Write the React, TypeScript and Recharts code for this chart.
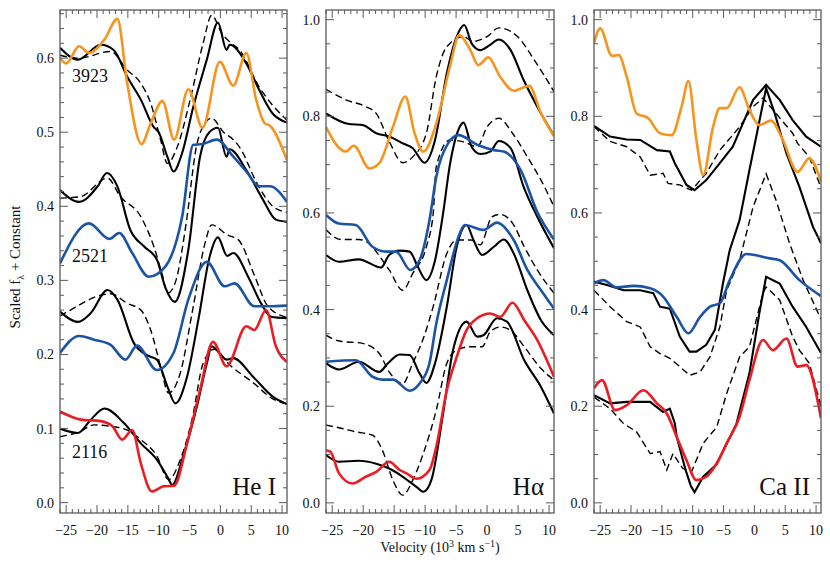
import React from "react";
import { LineChart, Line, XAxis, YAxis } from "recharts";

type Pt = [number, number];

// velocity (10^3 km/s) vs scaled flux
// He I
const he3923Obs: Pt[] = [[-26,0.600],[-25,0.593],[-22.9,0.616],[-21.3,0.607],[-18.8,0.625],[-16.7,0.653],[-15.1,0.566],[-12.8,0.484],[-11.3,0.512],[-9.4,0.542],[-7.5,0.49],[-5.2,0.558],[-2.9,0.506],[-0.1,0.595],[2.1,0.563],[4.2,0.607],[5.8,0.544],[7.2,0.512],[8,0.509],[10.8,0.462]];
const he3923ModelA: Pt[] = [[-26,0.614],[-23.1,0.598],[-19.4,0.618],[-17.3,0.611],[-15.1,0.575],[-12.9,0.544],[-10.8,0.507],[-10,0.5],[-8.6,0.467],[-7.6,0.447],[-6.2,0.472],[-4.4,0.534],[-2.2,0.598],[-0.4,0.648],[1,0.611],[1.5,0.618],[4.2,0.593],[6.3,0.557],[8.4,0.526],[10.8,0.513]];
const he3923ModelB: Pt[] = [[-26,0.604],[-23,0.6],[-17.8,0.609],[-15.1,0.584],[-12.9,0.566],[-11.3,0.539],[-9.7,0.49],[-8.6,0.458],[-7,0.48],[-4.9,0.544],[-2.8,0.62],[-1.4,0.658],[0.2,0.634],[1.5,0.622],[3.1,0.611],[6.3,0.561],[10.8,0.516]];
const he2521Obs: Pt[] = [[-26,0.323],[-21.3,0.377],[-18,0.356],[-16.4,0.364],[-14.3,0.337],[-11.6,0.305],[-8.9,0.319],[-6.2,0.386],[-4.4,0.483],[-2.9,0.484],[-0.6,0.49],[2.1,0.467],[4.2,0.447],[6.3,0.427],[8,0.427],[10.8,0.406]];
const he2521ModelA: Pt[] = [[-26,0.422],[-22.9,0.406],[-19.9,0.427],[-18.4,0.445],[-16.7,0.427],[-14.6,0.368],[-12.4,0.346],[-10.3,0.328],[-8.9,0.29],[-7.4,0.271],[-5.2,0.341],[-3.3,0.467],[-1.8,0.5],[-0.4,0.506],[1,0.467],[1.5,0.477],[4.2,0.449],[6.9,0.409],[9,0.382],[10.8,0.379]];
const he2521ModelB: Pt[] = [[-26,0.411],[-22.7,0.413],[-18.3,0.438],[-16.2,0.413],[-12.9,0.386],[-10.8,0.346],[-9.5,0.31],[-8.5,0.283],[-7.2,0.3],[-5.5,0.38],[-3.9,0.48],[-2.5,0.512],[-1.4,0.519],[0.5,0.5],[2.1,0.49],[3.1,0.48],[6,0.43],[8.5,0.4],[10.8,0.392]];
const heMidObs: Pt[] = [[-26,0.202],[-22.9,0.225],[-20.5,0.22],[-17.8,0.213],[-15.4,0.193],[-13.5,0.212],[-10.3,0.179],[-7.6,0.202],[-5.2,0.274],[-2.2,0.325],[0.7,0.292],[2.3,0.296],[5.5,0.265],[7.7,0.265],[10.8,0.266]];
const heMidModelA: Pt[] = [[-26,0.258],[-23.1,0.244],[-21,0.256],[-18.3,0.287],[-16.7,0.274],[-14,0.215],[-11.9,0.199],[-10.3,0.193],[-8.6,0.157],[-7.3,0.134],[-5.4,0.17],[-3.5,0.25],[-1.8,0.33],[-0.4,0.358],[1.1,0.333],[2.1,0.337],[4.5,0.305],[6.6,0.269],[8.2,0.251],[10.8,0.249]];
const heMidModelB: Pt[] = [[-26,0.252],[-24.3,0.26],[-19.4,0.28],[-17.8,0.282],[-15.1,0.269],[-12.9,0.26],[-11.3,0.233],[-9.7,0.184],[-8.4,0.148],[-6.5,0.175],[-4.5,0.26],[-2.5,0.35],[-1.4,0.375],[1.2,0.361],[2.9,0.355],[5.6,0.305],[7.7,0.265],[10.8,0.25]];
const he2116Obs: Pt[] = [[-26,0.123],[-22.6,0.112],[-19.4,0.11],[-17.5,0.103],[-15.9,0.085],[-14.3,0.098],[-12.9,0.053],[-11.1,0.015],[-9.2,0.022],[-7.5,0.023],[-5.4,0.08],[-3.3,0.152],[-1.2,0.217],[1,0.184],[4.2,0.238],[5.5,0.233],[7.4,0.26],[9,0.211],[10.8,0.19]];
const he2116ModelA: Pt[] = [[-26,0.1],[-23.1,0.094],[-21,0.112],[-18.8,0.127],[-15.6,0.107],[-12.9,0.08],[-10.3,0.058],[-8.6,0.035],[-7.8,0.024],[-5.9,0.067],[-3.8,0.13],[-2.2,0.188],[-1.4,0.211],[-0.5,0.205],[1,0.193],[2.1,0.195],[5.3,0.17],[8.5,0.143],[10.8,0.133]];
const he2116ModelB: Pt[] = [[-26,0.089],[-22.7,0.096],[-20.5,0.105],[-17.8,0.103],[-15.1,0.098],[-12.9,0.085],[-10.3,0.063],[-8.4,0.031],[-6.5,0.058],[-4.6,0.112],[-2.8,0.188],[-1,0.207],[1.5,0.186],[5.3,0.162],[8.5,0.14],[10.8,0.133]];

// H alpha
const ha1Obs: Pt[] = [[-26,0.778],[-24.5,0.744],[-22.8,0.727],[-21.5,0.739],[-19,0.692],[-17.4,0.703],[-15.2,0.778],[-13.2,0.841],[-11.7,0.765],[-10.3,0.727],[-8.2,0.785],[-6,0.903],[-4.5,0.968],[-2.7,0.937],[-1.4,0.906],[0.2,0.922],[2.1,0.882],[4.3,0.853],[6.8,0.863],[8.7,0.806],[10.8,0.759]];
const ha1ModelA: Pt[] = [[-26,0.806],[-22.3,0.784],[-20.1,0.782],[-17.9,0.765],[-15.8,0.758],[-13.6,0.744],[-12,0.734],[-10.1,0.704],[-8.4,0.751],[-6.5,0.889],[-4.9,0.965],[-3.7,0.989],[-2.5,0.951],[-1.1,0.937],[0.5,0.948],[1.9,0.959],[3.8,0.937],[5.9,0.875],[8.1,0.82],[10.8,0.76]];
const ha1ModelB: Pt[] = [[-26,0.856],[-22.8,0.834],[-19.6,0.82],[-17.9,0.806],[-15.8,0.748],[-13.6,0.704],[-12,0.716],[-9.8,0.765],[-8.2,0.882],[-6.5,0.944],[-3.8,0.965],[-2.3,0.955],[0,0.965],[1.9,0.983],[4.9,0.965],[7.6,0.917],[10.8,0.851]];
const ha2Obs: Pt[] = [[-26,0.596],[-23.9,0.578],[-21.2,0.575],[-18.5,0.53],[-16.3,0.52],[-14.7,0.52],[-12.4,0.482],[-10.9,0.502],[-9.3,0.585],[-8.2,0.675],[-6.3,0.744],[-4.6,0.761],[-1.6,0.741],[1.1,0.73],[2.7,0.727],[5.4,0.689],[8.1,0.602],[10.8,0.545]];
const ha2ModelA: Pt[] = [[-26,0.513],[-23.9,0.499],[-20.7,0.504],[-17.1,0.487],[-15.8,0.513],[-14.1,0.522],[-12.5,0.52],[-11.2,0.489],[-9.8,0.461],[-8.4,0.502],[-7.1,0.599],[-6,0.7],[-4.7,0.77],[-3.8,0.787],[-2.5,0.737],[-1.1,0.722],[0.5,0.727],[1.9,0.749],[3.8,0.734],[5.9,0.654],[8.1,0.592],[10.8,0.527]];
const ha2ModelB: Pt[] = [[-26,0.565],[-23.6,0.545],[-20.7,0.545],[-18.5,0.53],[-17.9,0.52],[-15.8,0.482],[-13.6,0.44],[-12,0.475],[-9.8,0.53],[-8.7,0.599],[-8.2,0.696],[-6,0.751],[-3.8,0.747],[-1.6,0.737],[0,0.778],[1.9,0.796],[4.1,0.765],[6.5,0.716],[8.7,0.668],[10.8,0.613]];
const ha3Obs: Pt[] = [[-26,0.292],[-21.2,0.295],[-18.5,0.261],[-16.9,0.255],[-15.2,0.255],[-12.5,0.232],[-10.9,0.247],[-9.3,0.289],[-8.2,0.371],[-6.5,0.461],[-4.4,0.558],[-3.6,0.575],[-0.6,0.565],[1.6,0.58],[4.3,0.544],[6.5,0.482],[8.7,0.44],[10.8,0.402]];
const ha3ModelA: Pt[] = [[-26,0.289],[-23.9,0.276],[-20.7,0.292],[-17.4,0.271],[-16,0.289],[-14.1,0.307],[-12.5,0.306],[-10.9,0.268],[-9.8,0.248],[-8.4,0.289],[-6.5,0.406],[-4.9,0.53],[-3.3,0.575],[-2.2,0.544],[-0.8,0.513],[1.1,0.53],[2.7,0.545],[4.3,0.516],[6.5,0.44],[8.7,0.378],[10.8,0.347]];
const ha3ModelB: Pt[] = [[-26,0.347],[-23.9,0.335],[-20.1,0.33],[-17.4,0.309],[-15.8,0.271],[-13.6,0.247],[-12,0.289],[-10.3,0.34],[-8.7,0.406],[-6.5,0.516],[-4.9,0.544],[-2.6,0.544],[-1.1,0.534],[0.8,0.592],[2.1,0.597],[4.1,0.579],[6,0.53],[8.1,0.482],[10.8,0.434]];
const ha4Obs: Pt[] = [[-26,0.109],[-25.3,0.106],[-23.9,0.061],[-21.7,0.04],[-19.6,0.054],[-17.9,0.064],[-15.8,0.085],[-14.1,0.068],[-13,0.061],[-11.4,0.05],[-9.3,0.068],[-8.2,0.116],[-6.5,0.233],[-4.9,0.302],[-3.3,0.358],[-1.6,0.382],[0.5,0.392],[2.1,0.385],[4.1,0.414],[6,0.378],[8.1,0.337],[10.8,0.261]];
const ha4ModelA: Pt[] = [[-26,0.099],[-23.9,0.085],[-20.7,0.087],[-17.9,0.081],[-15.8,0.071],[-13.6,0.054],[-11.4,0.033],[-10.3,0.023],[-9,0.047],[-7.1,0.185],[-5.5,0.316],[-3.3,0.375],[-1.6,0.344],[-0.6,0.347],[1.6,0.382],[3.2,0.375],[6,0.295],[8.7,0.24],[10.8,0.185]];
const ha4ModelB: Pt[] = [[-26,0.161],[-23.4,0.154],[-21.2,0.147],[-18.5,0.14],[-16.9,0.109],[-15.2,0.047],[-13.6,0.016],[-12,0.047],[-10.3,0.102],[-8.2,0.192],[-6.5,0.289],[-4.9,0.316],[-2.7,0.323],[-0.8,0.323],[0.5,0.354],[2.1,0.364],[3.8,0.357],[6,0.323],[8.7,0.278],[10.8,0.254]];

// Ca II
const ca1Obs: Pt[] = [[-26,0.951],[-25,0.982],[-23.1,0.925],[-22,0.927],[-20.7,0.882],[-19.1,0.806],[-17.2,0.796],[-15.3,0.765],[-13.4,0.761],[-11.8,0.82],[-10.7,0.873],[-9.4,0.751],[-8.3,0.678],[-6.7,0.778],[-5.6,0.817],[-4.5,0.817],[-2.4,0.86],[-0.8,0.813],[0.8,0.782],[2.7,0.791],[4.6,0.751],[7,0.685],[8.9,0.713],[10.8,0.665]];
const ca1ModelA: Pt[] = [[-26,0.78],[-23.4,0.758],[-20.7,0.752],[-18.5,0.751],[-15.8,0.73],[-13.7,0.727],[-12.9,0.703],[-11,0.658],[-9.7,0.647],[-7.8,0.668],[-5.6,0.703],[-3.5,0.737],[-0.2,0.834],[1.9,0.865],[4.1,0.834],[6.2,0.792],[8.4,0.758],[10.8,0.737]];
const ca1ModelB: Pt[] = [[-26,0.779],[-23.4,0.748],[-20.7,0.737],[-18.5,0.716],[-16.9,0.678],[-14.8,0.682],[-14,0.661],[-12.1,0.658],[-10.2,0.647],[-7.8,0.682],[-5.6,0.73],[-2.4,0.778],[-0.2,0.82],[1.4,0.838],[3.5,0.806],[6.2,0.765],[7,0.744],[8.9,0.716],[10.8,0.652]];
const ca2Obs: Pt[] = [[-26,0.454],[-24.5,0.461],[-22.3,0.446],[-19.6,0.449],[-16.9,0.444],[-14.8,0.427],[-12.6,0.385],[-10.7,0.351],[-8.8,0.385],[-7.2,0.406],[-5.6,0.413],[-4,0.461],[-1.3,0.515],[2.5,0.506],[4.1,0.502],[7.3,0.461],[10.8,0.428]];
const ca2ModelA: Pt[] = [[-26,0.458],[-23.9,0.451],[-21.2,0.44],[-18.5,0.44],[-16.4,0.434],[-15.3,0.406],[-13.7,0.402],[-12.1,0.344],[-10.5,0.313],[-9.4,0.313],[-7.8,0.327],[-6.4,0.358],[-5.1,0.454],[-4,0.523],[-2.4,0.585],[-0.8,0.689],[1.9,0.858],[3.3,0.806],[5.2,0.723],[7.3,0.654],[9.5,0.571],[10.8,0.537]];
const ca2ModelB: Pt[] = [[-26,0.44],[-23.4,0.406],[-20.7,0.375],[-18.5,0.364],[-16.9,0.323],[-15.3,0.309],[-13.7,0.299],[-12.1,0.282],[-10.5,0.264],[-8.8,0.271],[-7.2,0.302],[-5.6,0.364],[-4.5,0.44],[-2.4,0.502],[-0.2,0.613],[1.9,0.681],[3.5,0.627],[5.7,0.537],[7.9,0.461],[10.8,0.38]];
const ca3Obs: Pt[] = [[-26,0.237],[-24.7,0.254],[-22.6,0.192],[-20.7,0.202],[-18,0.233],[-15.8,0.206],[-14.2,0.185],[-12.6,0.137],[-11,0.088],[-9.4,0.047],[-7.8,0.054],[-6.1,0.082],[-4.5,0.123],[-2.4,0.178],[-0.8,0.254],[1.4,0.337],[3,0.316],[5.2,0.34],[7,0.282],[8.4,0.285],[10.8,0.175]];
const ca3ModelA: Pt[] = [[-26,0.223],[-23.4,0.206],[-20.7,0.209],[-16.9,0.209],[-14.8,0.188],[-13.7,0.195],[-12.9,0.165],[-12.6,0.137],[-11.2,0.07],[-10.3,0.035],[-9.7,0.022],[-8.3,0.054],[-6.1,0.08],[-2.9,0.164],[-0.8,0.268],[0.8,0.392],[1.9,0.468],[4.1,0.454],[6.2,0.406],[8.4,0.364],[10.8,0.31]];
const ca3ModelB: Pt[] = [[-26,0.219],[-23.4,0.195],[-21.2,0.164],[-19.1,0.147],[-16.9,0.102],[-15.3,0.106],[-14.2,0.068],[-13.2,0.102],[-11.6,0.071],[-10.2,0.064],[-8.3,0.123],[-6.1,0.157],[-4.5,0.226],[-2.4,0.302],[-0.8,0.323],[1.4,0.434],[1.9,0.447],[4.1,0.42],[6.2,0.344],[7.3,0.316],[8.9,0.289],[10.8,0.2]];

const velMajor = [-25, -20, -15, -10, -5, 0, 5, 10];
const velDomain: [number, number] = [-26, 10.8];
const heMajor = [0, 0.1, 0.2, 0.3, 0.4, 0.5, 0.6];
const lineMajor = [0, 0.2, 0.4, 0.6, 0.8, 1.0];

const W = 830;
const H = 564;
const TOP = 10;
const BOTTOM = 513;
const FRAME = "#5a5a5a";
const SERIF = "'Liberation Serif', 'DejaVu Serif', serif";

const ORANGE = "#F7941D";
const BLUE = "#1B54A6";
const RED = "#EC1C24";

type Series = { data: Pt[]; kind: "obs" | "a" | "b"; color?: string };
type PanelDef = {
  left: number;
  right: number;
  yDomain: [number, number];
  yMajor: number[];
  yStep: number;
  series: Series[];
  curve: "monotone" | "linear";
};

const isMajor = (v: number, list: number[]) => list.some((m) => Math.abs(m - v) < 1e-6);
const fmtVel = (v: number) => (v < 0 ? "\u2212" + Math.abs(v) : String(v));
const toRows = (pts: Pt[]) => pts.map(([v, f]) => ({ v, f }));

function steps(from: number, to: number, step: number) {
  const out: number[] = [];
  for (let i = 0; from + i * step <= to + 1e-9; i++) out.push(+(from + i * step).toFixed(4));
  return out;
}
const velTicks = steps(-26, 10, 1);

function Panel({ left, right, yDomain, yMajor, yStep, series, curve }: PanelDef) {
  const yTicks = steps(0, yDomain[1], yStep);
  const labelStyle = { fontFamily: SERIF };

  const bottomLabel = (p: any) => {
    const v = p.payload.value;
    if (!isMajor(v, velMajor)) return <g />;
    return (
      <text x={p.x} y={p.y + 22} textAnchor="middle" fontSize={14} style={labelStyle} fill="#111">
        {fmtVel(v)}
      </text>
    );
  };
  const leftLabel = (p: any) => {
    const v = p.payload.value;
    if (!isMajor(v, yMajor)) return <g />;
    return (
      <text x={p.x - 6} y={p.y + 5} textAnchor="end" fontSize={14} style={labelStyle} fill="#111">
        {v.toFixed(1)}
      </text>
    );
  };

  const ordered = [
    ...series.filter((s) => s.kind === "b"),
    ...series.filter((s) => s.kind === "a"),
    ...series.filter((s) => s.kind === "obs"),
  ];

  return (
    <div style={{ position: "absolute", left: 0, top: 0 }}>
      <LineChart
        width={W}
        height={H}
        margin={{ top: TOP, bottom: H - BOTTOM - 1, left: left - 1, right: W - right }}
      >
        <XAxis type="number" dataKey="v" domain={velDomain} allowDataOverflow
          ticks={velTicks} interval={0} height={1} tickSize={0} tickMargin={0} tickLine={false}
          axisLine={false} tick={bottomLabel} />
        <YAxis type="number" domain={yDomain} allowDataOverflow
          ticks={yTicks} interval={0} width={1} tickSize={0} tickMargin={0} tickLine={false}
          axisLine={false} tick={leftLabel} />
        {ordered.map((s, i) => (
          <Line
            key={i}
            data={toRows(s.data)}
            dataKey="f"
            type={s.kind === "obs" ? "monotone" : curve}
            stroke={s.kind === "obs" ? s.color : "#000"}
            strokeWidth={s.kind === "obs" ? 2.6 : s.kind === "a" ? 2.1 : 1.4}
            strokeDasharray={s.kind === "b" ? "7 4" : undefined}
            dot={false}
            activeDot={false}
            isAnimationActive={false}
          />
        ))}
      </LineChart>
    </div>
  );
}

// frame with inward ticks on all four sides, using the same domains as the chart axes
function Frame({ left, right, yDomain, yMajor, yStep }: PanelDef) {
  const sx = (v: number) => left + ((v - velDomain[0]) / (velDomain[1] - velDomain[0])) * (right - left);
  const sy = (f: number) => BOTTOM - ((f - yDomain[0]) / (yDomain[1] - yDomain[0])) * (BOTTOM - TOP);
  const yTicks = steps(0, yDomain[1], yStep);
  let d = "";
  velTicks.forEach((v) => {
    const x = sx(v);
    const len = isMajor(v, velMajor) ? 8 : 4;
    d += `M${x},${BOTTOM}V${BOTTOM - len}M${x},${TOP}V${TOP + len}`;
  });
  yTicks.forEach((f) => {
    const y = sy(f);
    const len = isMajor(f, yMajor) ? 8 : 4;
    d += `M${left},${y}H${left + len}M${right},${y}H${right - len}`;
  });
  return (
    <g>
      <path d={d} stroke={FRAME} strokeWidth={1} fill="none" />
      <rect x={left} y={TOP} width={right - left} height={BOTTOM - TOP} fill="none" stroke={FRAME} strokeWidth={1.3} />
    </g>
  );
}

const heSeries: Series[] = [
  { data: he3923ModelB, kind: "b" }, { data: he3923ModelA, kind: "a" }, { data: he3923Obs, kind: "obs", color: ORANGE },
  { data: he2521ModelB, kind: "b" }, { data: he2521ModelA, kind: "a" }, { data: he2521Obs, kind: "obs", color: BLUE },
  { data: heMidModelB, kind: "b" }, { data: heMidModelA, kind: "a" }, { data: heMidObs, kind: "obs", color: BLUE },
  { data: he2116ModelB, kind: "b" }, { data: he2116ModelA, kind: "a" }, { data: he2116Obs, kind: "obs", color: RED },
];
const haSeries: Series[] = [
  { data: ha1ModelB, kind: "b" }, { data: ha1ModelA, kind: "a" }, { data: ha1Obs, kind: "obs", color: ORANGE },
  { data: ha2ModelB, kind: "b" }, { data: ha2ModelA, kind: "a" }, { data: ha2Obs, kind: "obs", color: BLUE },
  { data: ha3ModelB, kind: "b" }, { data: ha3ModelA, kind: "a" }, { data: ha3Obs, kind: "obs", color: BLUE },
  { data: ha4ModelB, kind: "b" }, { data: ha4ModelA, kind: "a" }, { data: ha4Obs, kind: "obs", color: RED },
];
const caSeries: Series[] = [
  { data: ca1ModelB, kind: "b" }, { data: ca1ModelA, kind: "a" }, { data: ca1Obs, kind: "obs", color: ORANGE },
  { data: ca2ModelB, kind: "b" }, { data: ca2ModelA, kind: "a" }, { data: ca2Obs, kind: "obs", color: BLUE },
  { data: ca3ModelB, kind: "b" }, { data: ca3ModelA, kind: "a" }, { data: ca3Obs, kind: "obs", color: RED },
];

const panels: PanelDef[] = [
  { left: 60, right: 287, yDomain: [-0.014, 0.665], yMajor: heMajor, yStep: 0.02, series: heSeries, curve: "monotone" },
  { left: 326, right: 554, yDomain: [-0.021, 1.02], yMajor: lineMajor, yStep: 0.05, series: haSeries, curve: "monotone" },
  { left: 594, right: 821, yDomain: [-0.021, 1.02], yMajor: lineMajor, yStep: 0.05, series: caSeries, curve: "linear" },
];

export default function App() {
  return (
    <div style={{ position: "absolute", left: 0, top: 0, width: W, height: H, background: "#fff" }}>
      {panels.map((p, i) => (
        <Panel key={i} {...p} />
      ))}
      <svg width={W} height={H} style={{ position: "absolute", left: 0, top: 0, pointerEvents: "none", fontFamily: SERIF }}>
        {panels.map((p, i) => (
          <Frame key={i} {...p} />
        ))}
        <g fill="#111">
          <text x={72} y={82} fontSize={18}>3923</text>
          <text x={72} y={262} fontSize={18}>2521</text>
          <text x={72} y={458} fontSize={18}>2116</text>
          <text x={276} y={495} fontSize={25} textAnchor="end">He I</text>
          <text x={544} y={495} fontSize={25} textAnchor="end">Hα</text>
          <text x={810} y={495} fontSize={25} textAnchor="end">Ca II</text>
          <text x={440} y={552} fontSize={14} textAnchor="middle">
            Velocity (10<tspan dy={-5} fontSize={10}>3</tspan><tspan dy={5}> km s</tspan>
            <tspan dy={-5} fontSize={10}>−1</tspan><tspan dy={5}>)</tspan>
          </text>
          <text x={0} y={0} fontSize={15} textAnchor="middle" transform="translate(20 267) rotate(-90)">
            Scaled f<tspan dy={4} fontSize={10}>λ</tspan><tspan dy={-4}> + Constant</tspan>
          </text>
        </g>
      </svg>
    </div>
  );
}
